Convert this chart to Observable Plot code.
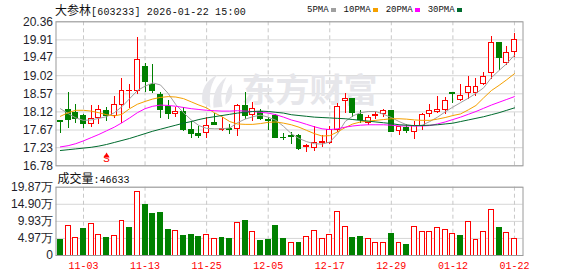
<!DOCTYPE html>
<html><head><meta charset="utf-8">
<script src="https://cdn.jsdelivr.net/npm/d3@7"></script>
<script src="https://cdn.jsdelivr.net/npm/@observablehq/plot@0.6"></script>
<style>
html,body{margin:0;padding:0;background:#fff;}
#wrap{position:relative;width:578px;height:276px;overflow:hidden;background:#fff;}
#wrap svg{position:absolute;left:0;}
.mono{font-family:"Liberation Mono","DejaVu Sans Mono",monospace;font-size:10px;}
.mono9{font-family:"Liberation Mono","DejaVu Sans Mono",monospace;font-size:9px;}
.cjk{font-family:"Noto Sans CJK SC",sans-serif;font-size:12px;}
</style></head>
<body><div id="wrap"></div>
<script>
// ---------- data ----------
const dates = ["10-29","10-30","10-31","11-03","11-04","11-05","11-06","11-07","11-10","11-11","11-12","11-13","11-14","11-17","11-18","11-19","11-20","11-21","11-24","11-25","11-26","11-27","11-28","12-01","12-02","12-03","12-04","12-05","12-08","12-09","12-10","12-11","12-12","12-15","12-16","12-17","12-18","12-19","12-22","12-23","12-24","12-25","12-26","12-29","12-30","12-31","01-05","01-06","01-07","01-08","01-09","01-12","01-13","01-14","01-15","01-16","01-19","01-20","01-21","01-22"];
const open  = [17.89,18.16,18.10,18.01,17.82,17.97,18.14,18.03,18.30,18.63,18.64,19.23,18.78,18.53,18.25,18.08,18.11,17.67,17.56,17.60,17.84,17.67,17.70,17.70,18.27,18.05,18.11,17.92,18.01,17.48,17.53,17.53,17.24,17.23,17.34,17.34,17.67,18.39,18.45,18.05,17.84,18.01,18.06,18.14,17.64,17.72,17.61,17.76,18.07,18.12,18.17,18.59,18.42,18.59,18.59,18.82,19.08,19.84,19.34,19.61];
const high  = [17.91,18.60,18.30,18.06,18.28,18.28,18.22,18.50,18.94,18.80,19.98,19.33,19.31,18.61,18.40,18.22,18.22,17.87,17.76,17.99,18.09,17.97,17.80,18.30,18.61,18.35,18.17,17.99,18.05,17.59,17.61,17.55,17.31,17.76,17.53,17.76,18.32,18.57,18.46,18.16,18.03,18.14,18.17,18.16,17.76,17.81,17.87,18.07,18.30,18.50,18.49,18.61,18.80,19.00,18.94,19.11,19.99,19.85,19.75,20.06];
const low   = [17.58,17.70,17.84,17.70,17.74,17.81,17.87,17.95,17.82,18.20,18.55,18.61,18.57,17.95,17.92,17.97,17.63,17.47,17.47,17.47,17.77,17.64,17.55,17.52,17.93,17.89,17.91,17.66,17.47,17.41,17.31,17.16,17.10,17.14,17.23,17.31,17.61,18.07,17.99,17.82,17.78,17.92,17.97,17.62,17.53,17.58,17.43,17.66,17.99,18.09,18.05,18.32,18.39,18.42,18.50,18.78,18.92,19.15,19.27,19.48];
const close = [17.87,17.92,17.94,17.82,17.95,18.16,18.03,18.30,18.65,18.65,19.42,18.86,18.64,18.17,18.07,18.11,17.68,17.57,17.53,17.77,17.79,17.70,17.68,18.27,18.03,18.19,17.94,17.89,17.47,17.46,17.50,17.20,17.27,17.34,17.37,17.67,18.25,18.45,18.09,17.92,17.97,18.04,18.14,17.62,17.74,17.64,17.76,18.05,18.13,18.16,18.38,18.56,18.52,18.75,18.75,19.00,19.84,19.46,19.59,19.91];
// volume in 万手
const volume = [4.4,8.5,5.2,7.6,9.2,6.0,5.2,5.7,10.1,7.9,18.5,14.8,12.1,12.5,7.3,7.2,5.8,6.1,5.3,6.0,4.7,5.2,4.7,9.5,9.9,6.9,4.1,4.4,8.7,4.9,3.7,3.5,5.5,7.2,4.7,6.0,12.7,8.3,5.2,5.5,4.7,3.5,3.7,6.3,3.7,3.2,8.3,6.9,6.9,8.1,7.5,6.3,5.7,9.8,4.6,6.9,13.3,8.1,6.6,4.66];
// 1 = red (up vs previous close), 0 = green
const volUp = [0,1,1,0,1,1,0,1,1,0,1,0,0,0,0,1,0,0,0,1,1,0,0,1,0,1,0,0,0,0,1,0,1,1,1,1,1,1,0,0,1,1,1,0,1,0,1,1,1,1,1,1,0,1,1,1,1,0,1,1];
const ma5  = [18.20,18.08,17.97,17.91,17.92,17.96,18.00,18.10,18.25,18.45,18.65,18.76,18.84,18.79,18.58,18.30,18.10,17.92,17.78,17.71,17.70,17.70,17.72,17.85,17.94,18.00,18.04,17.99,17.91,17.76,17.58,17.46,17.38,17.33,17.32,17.37,17.57,17.88,18.02,18.10,18.13,18.13,18.06,17.98,17.88,17.80,17.77,17.79,17.88,17.99,18.12,18.24,18.35,18.46,18.58,18.72,18.97,19.15,19.32,19.53];
const ma10 = [18.01,18.10,18.16,18.16,18.14,18.10,18.05,18.02,18.06,18.20,18.31,18.38,18.44,18.48,18.50,18.49,18.45,18.37,18.29,18.22,18.10,18.00,17.88,17.82,17.81,17.81,17.83,17.86,17.87,17.84,17.80,17.74,17.66,17.58,17.52,17.53,17.62,17.73,17.82,17.87,17.89,17.91,17.93,17.95,17.95,17.94,17.92,17.91,17.91,17.94,17.98,18.03,18.07,18.17,18.28,18.47,18.65,18.78,18.92,19.07];
const ma20 = [17.25,17.28,17.33,17.40,17.48,17.56,17.65,17.74,17.85,17.97,18.10,18.20,18.26,18.29,18.28,18.26,18.23,18.20,18.18,18.16,18.15,18.14,18.14,18.15,18.14,18.13,18.11,18.09,18.05,17.99,17.92,17.87,17.81,17.75,17.70,17.68,17.70,17.74,17.77,17.79,17.80,17.80,17.80,17.79,17.77,17.77,17.77,17.77,17.78,17.82,17.87,17.93,17.99,18.06,18.13,18.21,18.29,18.36,18.43,18.50];
const ma30 = [17.16,17.18,17.20,17.22,17.24,17.27,17.31,17.36,17.41,17.46,17.52,17.58,17.64,17.69,17.74,17.79,17.84,17.88,17.93,17.97,18.00,18.03,18.06,18.09,18.11,18.13,18.14,18.13,18.11,18.09,18.05,18.03,18.01,17.99,17.98,17.97,17.96,17.95,17.93,17.91,17.89,17.87,17.85,17.83,17.80,17.79,17.78,17.78,17.79,17.80,17.82,17.84,17.88,17.92,17.96,18.00,18.05,18.10,18.16,18.22];
const tickDates = ["11-03","11-13","11-25","12-05","12-17","12-29","01-12","01-22"];
const priceTickLabels = ["20.36","19.91","19.47","19.02","18.57","18.12","17.67","17.23","16.78"];
const volTickLabels = ["19.87万","14.90万","9.93万","4.97万","0"];
const volTickValues = [19.87,14.90,9.93,4.97,0];
const maLabels = ["5PMA","10PMA","20PMA","30PMA"];
const maColors = ["#a0a0a0","#f5a000","#ff00ff","#006b2e"];
const signalIdx = [6];
const signalText = ["S"];
const titleName = "大参林";
const titleRest = "[603233] 2026-01-22 15:00";
const volName = "成交量";
const volLast = "46633";
const watermark = ["东方财富"];

// ---------- layout ----------
const W = 578, RED = "#ff0000", GREEN = "#008000", WM = "#e6e6ea";
const frameL = 55.5, frameR = 522.5;
const xDomain = [-0.572, 60.11];
const idx = d3.range(dates.length);
const upIdx = idx.filter(i => close[i] >= open[i]);
const dnIdx = idx.filter(i => close[i] < open[i]);
const tickIdx = tickDates.map(d => dates.indexOf(d));
const priceTickVals = priceTickLabels.map(Number);
const priceLabelMap = new Map(priceTickVals.map((v, k) => [v, priceTickLabels[k]]));
const volLabelMap = new Map(volTickValues.map((v, k) => [v, volTickLabels[k]]));
const mas = [ma5, ma10, ma20, ma30];
const bw = 0.32;

// watermark logo: three curved swooshes
const logoSymbol = {
  draw(ctx) {
    ctx.moveTo(-14, 11); ctx.quadraticCurveTo(-17, -8, 1, -17); ctx.quadraticCurveTo(-9, -5, -6, 16); ctx.closePath();
    ctx.moveTo(-3, 16); ctx.quadraticCurveTo(-5, -3, 10, -15); ctx.quadraticCurveTo(2, 0, 6, 15); ctx.closePath();
    ctx.moveTo(9, 13); ctx.quadraticCurveTo(8, 0, 15, -8); ctx.quadraticCurveTo(18, 6, 9, 13); ctx.closePath();
  }
};

const baseStyle = {background: "transparent", fontFamily: "'Liberation Sans', Arial, sans-serif", fontSize: "12px", color: "#1e1e2a", overflow: "visible"};

const price = Plot.plot({
  width: W, height: 167,
  marginLeft: frameL, marginRight: W - frameR, marginTop: 21.3, marginBottom: 1.7,
  style: baseStyle,
  x: {domain: xDomain, axis: null},
  y: {domain: [16.78, 20.36], axis: null},
  marks: [
    Plot.ruleY(priceTickVals, {stroke: "#d6d6d6"}),
    Plot.ruleX(tickIdx, {stroke: "#c8c8c8", strokeDasharray: "4,3"}),
    Plot.dot(watermark, {frameAnchor: "middle", dx: -73, dy: -2, symbol: logoSymbol, r: 10, fill: WM, stroke: "none"}),
    Plot.text(watermark, {text: d => d, frameAnchor: "middle", dx: 20, dy: -2, fontSize: 33, fontWeight: "bold", fill: WM, fontFamily: "'Noto Sans CJK SC', sans-serif"}),
    Plot.ruleX(upIdx, {x: i => i, y1: i => low[i], y2: i => high[i], stroke: RED, shapeRendering: "crispEdges"}),
    Plot.ruleX(dnIdx, {x: i => i, y1: i => low[i], y2: i => high[i], stroke: GREEN, shapeRendering: "crispEdges"}),
    Plot.rect(upIdx, {x1: i => i - bw, x2: i => i + bw, y1: i => open[i], y2: i => close[i], fill: "#fff", stroke: RED, shapeRendering: "crispEdges"}),
    Plot.rect(dnIdx, {x1: i => i - bw, x2: i => i + bw, y1: i => close[i], y2: i => open[i], fill: GREEN, stroke: GREEN, shapeRendering: "crispEdges"}),
    ...mas.map((m, k) => Plot.line(idx, {x: i => i, y: i => m[i], stroke: maColors[k], strokeWidth: 1})),
    Plot.dot(signalIdx, {x: d => d, frameAnchor: "bottom", dy: -10, symbol: "triangle", r: 2.2, fill: RED}),
    Plot.text(signalIdx, {x: d => d, text: (d, k) => signalText[k], frameAnchor: "bottom", dy: -4, fill: RED, fontSize: 11, fontFamily: "'Liberation Mono', monospace"}),
    Plot.frame({stroke: "#9a9a9a"}),
    Plot.axisY({ticks: priceTickVals, tickFormat: v => priceLabelMap.get(v), tickSize: 0, tickPadding: 3, fontSize: 12})
  ]
});
price.style.top = "0px";
// stretch watermark to its width in the reference
d3.select(price).selectAll("text").filter(function() { return this.textContent === watermark[0]; })
  .attr("textLength", 136).attr("lengthAdjust", "spacingAndGlyphs");

const vol = Plot.plot({
  width: W, height: 109,
  marginLeft: frameL, marginRight: W - frameR, marginTop: 19.7, marginBottom: 21,
  style: baseStyle,
  x: {domain: xDomain, axis: null},
  y: {domain: [0, 19.87], axis: null},
  marks: [
    Plot.ruleY(volTickValues, {stroke: "#d6d6d6"}),
    Plot.ruleX(tickIdx, {stroke: "#c8c8c8", strokeDasharray: "4,3"}),
    Plot.rect(idx.filter(i => volUp[i]), {x1: i => i - bw, x2: i => i + bw, y1: 0, y2: i => volume[i], fill: "#fff", stroke: RED, shapeRendering: "crispEdges"}),
    Plot.rect(idx.filter(i => !volUp[i]), {x1: i => i - bw, x2: i => i + bw, y1: 0, y2: i => volume[i], fill: GREEN, stroke: GREEN, shapeRendering: "crispEdges"}),
    Plot.frame({stroke: "#9a9a9a"}),
    Plot.axisY({ticks: volTickValues, tickFormat: v => volLabelMap.get(v), tickSize: 0, tickPadding: 3, fontSize: 12}),
    Plot.axisX({ticks: tickIdx, tickFormat: i => dates[i], tickSize: 0, tickPadding: 6, fill: RED, color: RED, fontSize: 10, fontFamily: "'Liberation Mono', monospace"})
  ]
});
vol.style.top = "167px";

const wrap = document.getElementById("wrap");
wrap.appendChild(price);
wrap.appendChild(vol);

// header title
const title = document.createElement("div");
title.style.cssText = "position:absolute;left:55px;top:3px;line-height:14px;white-space:nowrap;color:#111;";
title.innerHTML = `<span class="cjk">${titleName}</span><span class="mono" style="letter-spacing:0.2px">${titleRest}</span>`;
wrap.appendChild(title);

// MA legend
const leg = document.createElement("div");
leg.style.cssText = "position:absolute;left:307px;top:3px;line-height:14px;white-space:nowrap;display:flex;align-items:center;color:#111;";
maLabels.forEach((l, k) => {
  const t = document.createElement("span"); t.className = "mono9"; t.textContent = l;
  const s = document.createElement("span");
  s.style.cssText = `display:inline-block;width:5px;height:4px;background:${maColors[k]};margin-left:2.5px;margin-right:7.5px;`;
  leg.appendChild(t); leg.appendChild(s);
});
wrap.appendChild(leg);

// volume caption
const vcap = document.createElement("div");
vcap.style.cssText = "position:absolute;left:57.5px;top:171px;line-height:14px;white-space:nowrap;color:#111;";
vcap.innerHTML = `<span class="cjk">${volName}</span><span class="mono">:${volLast}</span>`;
wrap.appendChild(vcap);
</script>
</body></html>
